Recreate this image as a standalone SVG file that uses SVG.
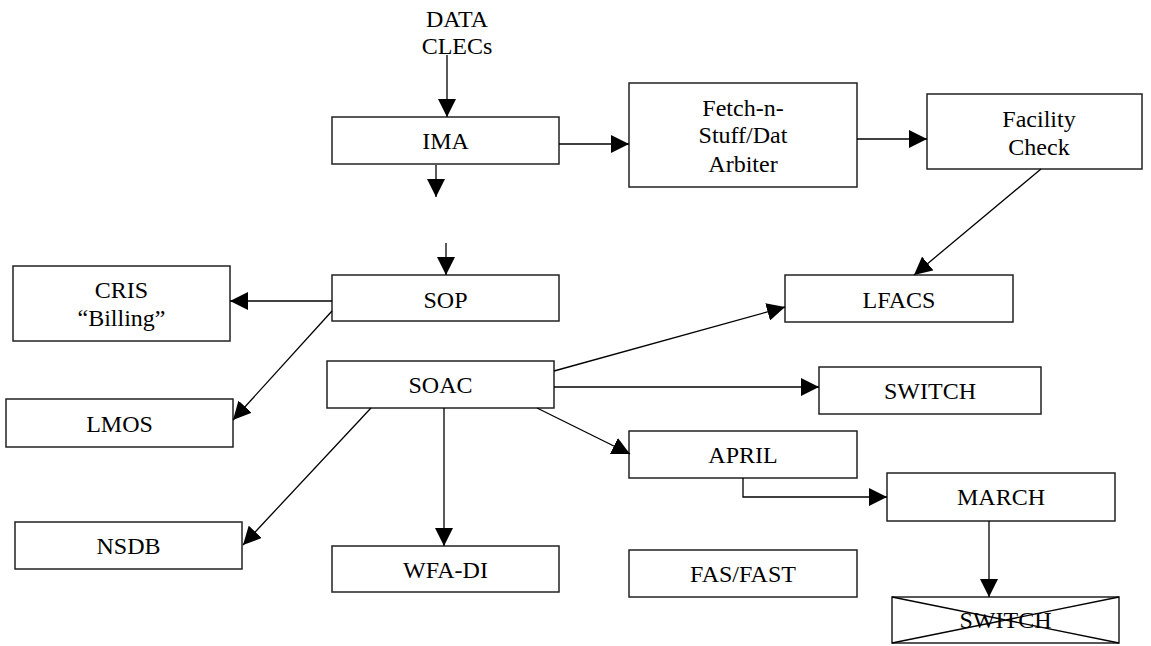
<svg xmlns="http://www.w3.org/2000/svg" width="1151" height="646" viewBox="0 0 1151 646">
<style>
.box{fill:#fff;stroke:#222;stroke-width:1.5}
.t{font-family:"Liberation Serif","Times New Roman",serif;font-size:24px;fill:#000;text-anchor:middle}
.c{fill:none;stroke:#000;stroke-width:1.3}
</style>
<defs>
<marker id="ah" markerUnits="userSpaceOnUse" markerWidth="18" markerHeight="18" refX="18" refY="9" orient="auto">
<path d="M0,0 L18,9 L0,18 z" fill="#000"/>
</marker>
</defs>
<rect width="1151" height="646" fill="#fff"/>
<g id="datacleqs">
<text class="t" x="457" y="27">DATA</text>
<text class="t" x="457" y="54">CLECs</text>
</g>
<g id="ima"><rect class="box" x="332" y="117" width="227" height="47"/><text class="t" x="445.5" y="149">IMA</text></g>
<g id="fetch"><rect class="box" x="629" y="83" width="228" height="104"/>
<text class="t" x="743" y="116">Fetch-n-</text><text class="t" x="743" y="143">Stuff/Dat</text><text class="t" x="743" y="172">Arbiter</text></g>
<g id="facility"><rect class="box" x="927" y="94" width="215" height="75"/>
<text class="t" x="1039" y="127">Facility</text><text class="t" x="1039" y="155">Check</text></g>
<g id="cris"><rect class="box" x="13" y="266" width="217" height="75"/>
<text class="t" x="121.5" y="298">CRIS</text><text class="t" x="121.5" y="326">“Billing”</text></g>
<g id="sop"><rect class="box" x="332" y="275" width="227" height="46"/><text class="t" x="445.5" y="308">SOP</text></g>
<g id="lfacs"><rect class="box" x="785" y="275" width="228" height="47"/><text class="t" x="899" y="308">LFACS</text></g>
<g id="soac"><rect class="box" x="327" y="361" width="227" height="47"/><text class="t" x="440.5" y="393">SOAC</text></g>
<g id="switch1"><rect class="box" x="819" y="367" width="222" height="47"/><text class="t" x="930" y="399">SWITCH</text></g>
<g id="lmos"><rect class="box" x="6" y="399" width="227" height="48"/><text class="t" x="119.5" y="432">LMOS</text></g>
<g id="april"><rect class="box" x="629" y="431" width="228" height="47"/><text class="t" x="743" y="463">APRIL</text></g>
<g id="march"><rect class="box" x="887" y="473" width="228" height="48"/><text class="t" x="1001" y="505">MARCH</text></g>
<g id="nsdb"><rect class="box" x="15" y="522" width="227" height="47"/><text class="t" x="128.5" y="554">NSDB</text></g>
<g id="wfadi"><rect class="box" x="332" y="546" width="227" height="46"/><text class="t" x="445.5" y="578">WFA-DI</text></g>
<g id="fasfast"><rect class="box" x="629" y="550" width="228" height="47"/><text class="t" x="743" y="582">FAS/FAST</text></g>
<g id="switch2"><rect class="box" x="892" y="597" width="227" height="46"/>
<text class="t" x="1005.5" y="628">SWITCH</text>
<path class="c" d="M892,597 L1119,643 M892,643 L1119,597"/></g>
<g id="connectors">
<path class="c" marker-end="url(#ah)" d="M447,55 L447,117"/>
<path class="c" marker-end="url(#ah)" d="M436,165 L436,197"/>
<path class="c" marker-end="url(#ah)" d="M446,243 L446,275"/>
<path class="c" marker-end="url(#ah)" d="M559,144 L629,144"/>
<path class="c" marker-end="url(#ah)" d="M857,139 L927,139"/>
<path class="c" marker-end="url(#ah)" d="M1041,169 L914,275"/>
<path class="c" marker-end="url(#ah)" d="M332,301 L230,301"/>
<path class="c" marker-end="url(#ah)" d="M332,311 L233,420"/>
<path class="c" marker-end="url(#ah)" d="M371,408 L243,545"/>
<path class="c" marker-end="url(#ah)" d="M444,408 L444,546"/>
<path class="c" marker-end="url(#ah)" d="M537,408 L630,454"/>
<path class="c" marker-end="url(#ah)" d="M554,371 L785,307"/>
<path class="c" marker-end="url(#ah)" d="M554,387 L819,387"/>
<path class="c" marker-end="url(#ah)" d="M743,478 L743,497 L887,497"/>
<path class="c" marker-end="url(#ah)" d="M989,521 L989,597"/>
</g>
</svg>
